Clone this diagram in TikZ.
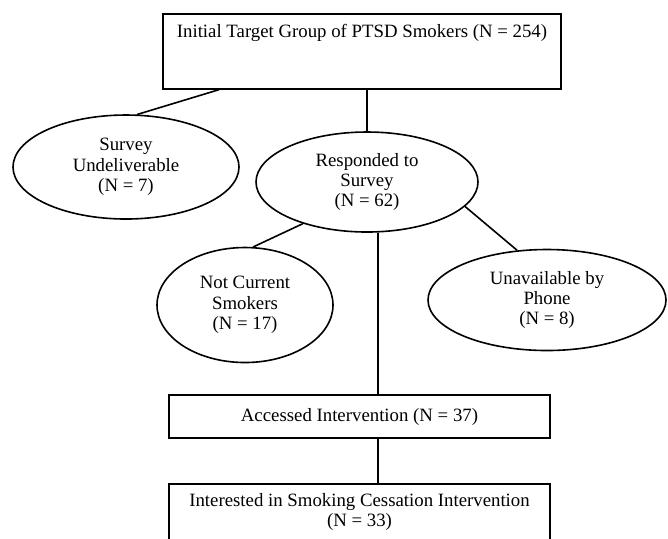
\documentclass[tikz,border=0pt]{standalone}
\usepackage{fontspec}
\setmainfont{Liberation Serif}
\usetikzlibrary{shapes.geometric}
\begin{document}
\begin{tikzpicture}[x=0.5pt,y=-0.5pt,line width=0.8pt]
            \tikzstyle{every node}=[font=\fontsize{9.4}{10.2}\selectfont, align=center]
            \tikzstyle{oval}=[draw, ellipse, inner sep=0pt]
            \tikzstyle{stage}=[draw, rectangle, minimum width=190.5pt]
            \useasboundingbox (0,0) rectangle (668,538);
            \clip (0,0) rectangle (668,538);
            \node[draw, minimum width=199pt, text height=6.4pt, text depth=20.1pt, inner ysep=5.4pt] (tg) at (362, 51.5) {Initial Target Group of PTSD Smokers (N = 254)};
            \node[oval, minimum width=113pt, minimum height=52pt] (su) at (126, 167) {Survey\\Undeliverable\\(N = 7)};
            \node[oval, minimum width=111pt, minimum height=50pt] (re) at (367, 182) {Responded to\\Survey\\(N = 62)};
            \node[oval, minimum width=88pt, minimum height=57.5pt] (nc) at (245, 305) {Not Current\\Smokers\\(N = 17)};
            \node[oval, minimum width=119pt, minimum height=50.5pt] (un) at (547, 300) {Unavailable by\\Phone\\(N = 8)};
            \node[stage, minimum height=21.5pt] (ac) at (359.5, 416.5) {Accessed Intervention (N = 37)};
            \node[stage, anchor=north, text height=16.8pt, text depth=40pt, inner ysep=4.6pt] (in) at (359.5, 483) {Interested in Smoking Cessation Intervention\\(N = 33)};

            \draw ([xshift=28.5pt]tg.south west) -- (su.78);
            \draw (tg.south -| re.north) -- (re.north);
            \draw (re.-147) -- (nc.82);
            \draw (re.-14) -- (un.121);
            \draw (re.-78) -- (re.-78 |- ac.north);
            \draw (ac.south -| re.-78) -- (in.north -| re.-78);
        \end{tikzpicture}
\end{document}
